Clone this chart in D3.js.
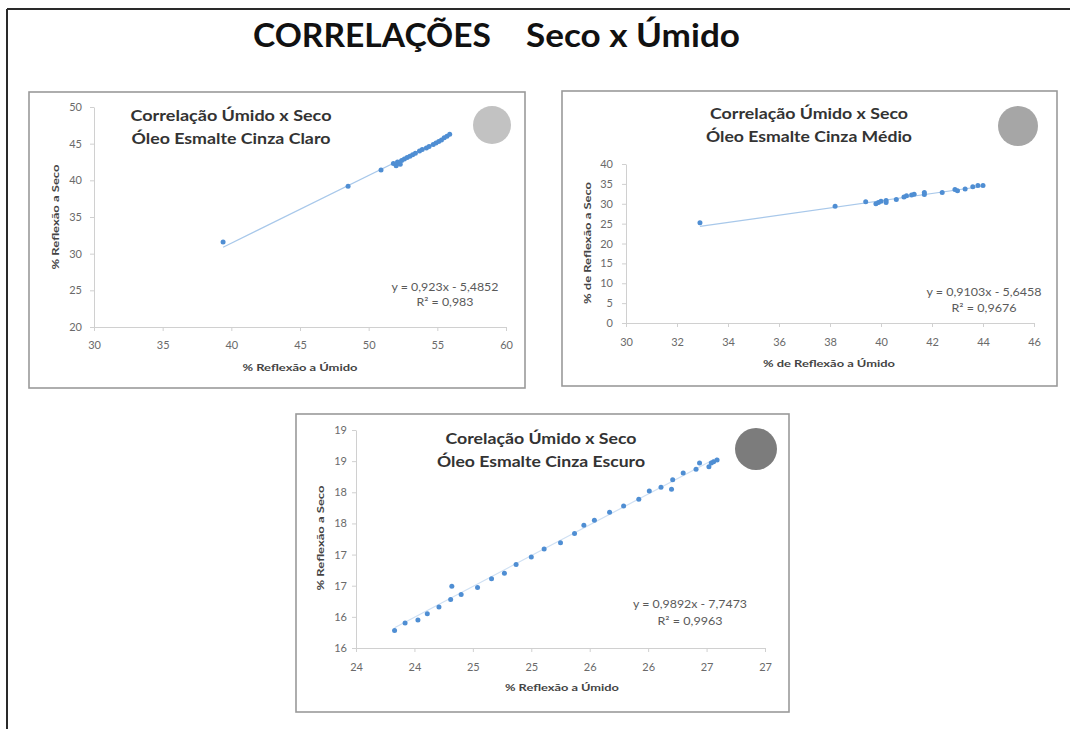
<!DOCTYPE html>
<html>
<head>
<meta charset="utf-8">
<script src="https://cdn.jsdelivr.net/npm/d3@7/dist/d3.min.js"></script>
<style>
  html, body { margin: 0; padding: 0; background: #fff; }
  svg { display: block; }
  text { font-family: Lato, "Open Sans", "Liberation Sans", sans-serif; }
</style>
</head>
<body>
<svg id="chart" width="1070" height="729"></svg>
<script>
// ---- Data: % reflexão measured wet (úmido) vs dry (seco) ----

// Óleo Esmalte Cinza Claro
const claroUmido = [39.4, 48.5, 50.9, 51.8, 52.0, 52.1, 52.3, 52.4, 52.6, 52.8, 53.0, 53.2, 53.4, 53.7, 53.9, 54.2, 54.4, 54.7, 54.9, 55.1, 55.3, 55.5, 55.7, 55.9];
const claroSeco  = [31.6, 39.2, 41.4, 42.3, 42.0, 42.5, 42.2, 42.7, 42.9, 43.1, 43.3, 43.5, 43.7, 44.0, 44.2, 44.4, 44.6, 44.9, 45.1, 45.3, 45.5, 45.8, 46.0, 46.3];
const claroXTicks = [30, 35, 40, 45, 50, 55, 60];
const claroYTicks = [20, 25, 30, 35, 40, 45, 50];

// Óleo Esmalte Cinza Médio
const medioUmido = [32.9, 38.2, 39.4, 39.8, 39.9, 40.0, 40.2, 40.2, 40.6, 40.9, 41.0, 41.2, 41.3, 41.7, 41.7, 42.4, 42.9, 43.0, 43.3, 43.6, 43.8, 44.0];
const medioSeco  = [25.2, 29.4, 30.5, 30.0, 30.3, 30.6, 30.3, 30.8, 31.1, 31.7, 32.0, 32.2, 32.4, 32.3, 32.8, 32.8, 33.6, 33.3, 33.7, 34.3, 34.6, 34.6];
const medioXTicks = [30, 32, 34, 36, 38, 40, 42, 44, 46];
const medioYTicks = [0, 5, 10, 15, 20, 25, 30, 35, 40];

// Óleo Esmalte Cinza Escuro
const escuroUmido = [23.83, 23.92, 24.03, 24.11, 24.21, 24.31, 24.32, 24.40, 24.54, 24.66, 24.77, 24.87, 25.00, 25.11, 25.25, 25.37, 25.45, 25.54, 25.67, 25.79, 25.92, 26.01, 26.11, 26.20, 26.21, 26.30, 26.41, 26.44, 26.52, 26.54, 26.56, 26.59];
const escuroSeco  = [15.78, 15.90, 15.95, 16.05, 16.16, 16.28, 16.49, 16.36, 16.47, 16.61, 16.70, 16.84, 16.96, 17.09, 17.19, 17.34, 17.47, 17.55, 17.68, 17.78, 17.89, 18.02, 18.08, 18.05, 18.20, 18.31, 18.37, 18.47, 18.41, 18.47, 18.49, 18.52];
const escuroXTicks = [23.5, 24, 24.5, 25, 25.5, 26, 26.5, 27];
const escuroXLabels = ["24", "24", "25", "25", "26", "26", "27", "27"];
const escuroYTicks = [15.5, 16, 16.5, 17, 17.5, 18, 18.5, 19];
const escuroYLabels = ["16", "16", "17", "17", "18", "18", "19", "19"];

// Linear trendlines (slope, intercept) and R²
const trendSlopes     = [0.923, 0.9103, 0.9892];
const trendIntercepts = [-5.4852, -5.6458, -7.7473];
const trendEquations  = ["y = 0,923x - 5,4852", "y = 0,9103x - 5,6458", "y = 0,9892x - 7,7473"];
const trendR2         = ["R² = 0,983", "R² = 0,9676", "R² = 0,9963"];

const panelTitles1 = ["Correlação Úmido x Seco", "Correlação Úmido x Seco", "Corelação Úmido x Seco"];
const panelTitles2 = ["Óleo Esmalte Cinza Claro", "Óleo Esmalte Cinza Médio", "Óleo Esmalte Cinza Escuro"];
const xAxisTitles  = ["% Reflexão a Úmido", "% de Reflexão a Úmido", "% Reflexão a Úmido"];
const yAxisTitles  = ["% Reflexão a Seco", "% de Reflexão a Seco", "% Reflexão a Seco"];
const swatchColors = ["#c2c2c2", "#a6a6a6", "#7c7c7c"];
const trendColors  = ["#a8c8ea", "#a8c8ea", "#cfe0f3"];

// ---- Layout ----
const panels = [
  {
    xs: claroUmido, ys: claroSeco, xDomain: [30, 60], yDomain: [20, 50],
    xTicks: claroXTicks, yTicks: claroYTicks, xLabels: null, yLabels: null,
    frame: [29, 92, 525, 388], xRange: [94, 506], yRange: [327, 107],
    titleX: 231, titleY: [120.5, 143.5], titleW: [201, 199],
    swatch: [492, 125, 19], eqX: 445, eqY: [290.5, 305.5], eqW: [107, 57],
    xTitle: [300, 370.5, 115], yTitle: [55, 217, 105], xTickY: 349, yTickPad: 8
  },
  {
    xs: medioUmido, ys: medioSeco, xDomain: [30, 46], yDomain: [0, 40],
    xTicks: medioXTicks, yTicks: medioYTicks, xLabels: null, yLabels: null,
    frame: [562, 91, 1057, 386], xRange: [626, 1034], yRange: [323, 164],
    titleX: 809, titleY: [118.5, 141.5], titleW: [198, 206],
    swatch: [1018, 126, 20], eqX: 984, eqY: [295.5, 311.5], eqW: [115, 65],
    xTitle: [829, 366.5, 132], yTitle: [587, 243, 122], xTickY: 346, yTickPad: 9
  },
  {
    xs: escuroUmido, ys: escuroSeco, xDomain: [23.5, 27], yDomain: [15.5, 19],
    xTicks: escuroXTicks, yTicks: escuroYTicks, xLabels: escuroXLabels, yLabels: escuroYLabels,
    frame: [296, 414, 789, 712], xRange: [356, 765], yRange: [648, 430],
    titleX: 541, titleY: [443.5, 466.5], titleW: [191, 208],
    swatch: [756, 449, 21], eqX: 690, eqY: [607.5, 624.5], eqW: [114, 65],
    xTitle: [562, 690.5, 114], yTitle: [320, 538, 105], xTickY: 671, yTickPad: 5
  }
];

const svg = d3.select("#chart");

// Page frame (top and left rules)
svg.append("line").attr("x1", 7).attr("y1", 9).attr("x2", 1070).attr("y2", 9)
  .attr("stroke", "#2a2a2a").attr("stroke-width", 2);
svg.append("line").attr("x1", 7).attr("y1", 9).attr("x2", 7).attr("y2", 729)
  .attr("stroke", "#2a2a2a").attr("stroke-width", 2);

// Page heading
const heading = svg.append("text").attr("y", 47).attr("font-size", 33)
  .attr("font-weight", 700).attr("fill", "#111");
heading.append("tspan").attr("x", 253).attr("textLength", 238)
  .attr("lengthAdjust", "spacingAndGlyphs").text("CORRELAÇÕES");
heading.append("tspan").attr("x", 526).attr("textLength", 214)
  .attr("lengthAdjust", "spacingAndGlyphs").text("Seco x Úmido");

panels.forEach((p, i) => {
  const g = svg.append("g");
  const [fx0, fy0, fx1, fy1] = p.frame;

  g.append("rect").attr("x", fx0).attr("y", fy0)
    .attr("width", fx1 - fx0).attr("height", fy1 - fy0)
    .attr("fill", "#fff").attr("stroke", "#9a9a9a").attr("stroke-width", 1.6);

  const x = d3.scaleLinear().domain(p.xDomain).range(p.xRange);
  const y = d3.scaleLinear().domain(p.yDomain).range(p.yRange);

  const xAxis = d3.axisBottom(x).tickValues(p.xTicks).tickSizeInner(4).tickSizeOuter(0)
    .tickFormat((d, k) => p.xLabels ? p.xLabels[k] : d3.format("d")(d));
  const yAxis = d3.axisLeft(y).tickValues(p.yTicks).tickSizeInner(4).tickSizeOuter(0)
    .tickPadding(p.yTickPad)
    .tickFormat((d, k) => p.yLabels ? p.yLabels[k] : d3.format("d")(d));

  const gx = g.append("g").attr("transform", `translate(0,${p.yRange[0]})`).call(xAxis);
  const gy = g.append("g").attr("transform", `translate(${p.xRange[0]},0)`).call(yAxis);
  [gx, gy].forEach(ax => {
    ax.select(".domain").attr("stroke", "#d0d0d0");
    ax.selectAll(".tick line").attr("stroke", "#d0d0d0");
    ax.selectAll(".tick text").attr("fill", "#6a6a6a").attr("font-size", 11)
      .attr("font-family", "Lato, 'Open Sans', sans-serif");
  });
  gx.selectAll(".tick text").attr("dy", null)
    .attr("y", p.xTickY - p.yRange[0]);

  // Trendline over the range of the data
  const xmin = d3.min(p.xs), xmax = d3.max(p.xs);
  const f = v => trendSlopes[i] * v + trendIntercepts[i];
  g.append("line")
    .attr("x1", x(xmin)).attr("y1", y(f(xmin)))
    .attr("x2", x(xmax)).attr("y2", y(f(xmax)))
    .attr("stroke", trendColors[i]).attr("stroke-width", 1.2);

  // Measurements
  g.append("g").selectAll("circle")
    .data(p.xs.map((v, k) => [v, p.ys[k]]))
    .join("circle")
    .attr("cx", d => x(d[0])).attr("cy", d => y(d[1]))
    .attr("r", 2.5).attr("fill", "#4f8ed3");

  // Panel title
  [panelTitles1[i], panelTitles2[i]].forEach((t, k) => {
    g.append("text").attr("x", p.titleX).attr("y", p.titleY[k])
      .attr("text-anchor", "middle").attr("font-size", 15).attr("font-weight", 700)
      .attr("fill", "#333").attr("textLength", p.titleW[k])
      .attr("lengthAdjust", "spacingAndGlyphs").text(t);
  });

  // Colour swatch
  g.append("circle").attr("cx", p.swatch[0]).attr("cy", p.swatch[1]).attr("r", p.swatch[2])
    .attr("fill", swatchColors[i]);

  // Trendline equation
  [trendEquations[i], trendR2[i]].forEach((t, k) => {
    g.append("text").attr("x", p.eqX).attr("y", p.eqY[k])
      .attr("text-anchor", "middle").attr("font-size", 10.5).attr("fill", "#5a5a5a")
      .attr("textLength", p.eqW[k]).attr("lengthAdjust", "spacingAndGlyphs").text(t);
  });

  // Axis titles
  g.append("text").attr("x", p.xTitle[0]).attr("y", p.xTitle[1])
    .attr("text-anchor", "middle").attr("font-size", 10).attr("font-weight", 700)
    .attr("fill", "#444").attr("textLength", p.xTitle[2])
    .attr("lengthAdjust", "spacingAndGlyphs").text(xAxisTitles[i]);
  g.append("text")
    .attr("transform", `translate(${p.yTitle[0] + 3.5},${p.yTitle[1]}) rotate(-90)`)
    .attr("text-anchor", "middle").attr("font-size", 10).attr("font-weight", 700)
    .attr("fill", "#444").attr("textLength", p.yTitle[2])
    .attr("lengthAdjust", "spacingAndGlyphs").text(yAxisTitles[i]);
});
</script>
</body>
</html>
